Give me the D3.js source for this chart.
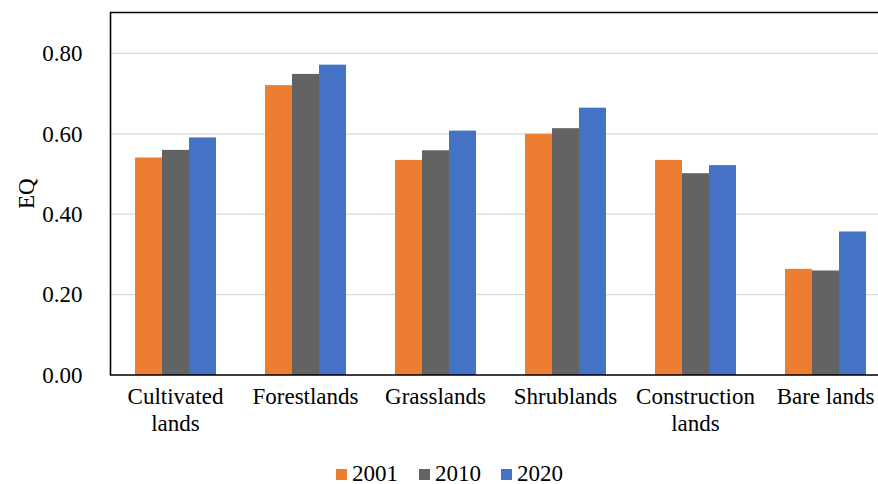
<!DOCTYPE html>
<html>
<head>
<meta charset="utf-8">
<script src="https://cdn.jsdelivr.net/npm/d3@7"></script>
<style>
  html, body { margin: 0; padding: 0; background: #fff; }
  svg text { font-family: "Liberation Serif", "Times New Roman", "DejaVu Serif", serif; }
</style>
</head>
<body>
<svg id="chart" width="878" height="484"></svg>
<script>
// Land-use categories (two-line labels are split on "\n")
const categories = ["Cultivated\nlands", "Forestlands", "Grasslands", "Shrublands", "Construction\nlands", "Bare lands"];
const years = ["2001", "2010", "2020"];
// Mean EQ per category for each year
const eq2001 = [0.541, 0.721, 0.535, 0.600, 0.535, 0.264];
const eq2010 = [0.560, 0.749, 0.559, 0.614, 0.502, 0.260];
const eq2020 = [0.591, 0.772, 0.608, 0.665, 0.522, 0.357];
const yTicks = [0, 0.2, 0.4, 0.6, 0.8];
const colors = ["#ED7D31", "#636363", "#4472C4"];

const seriesValues = [eq2001, eq2010, eq2020];
const rows = categories.map((c, i) => ({ cat: c, vals: years.map((y, j) => ({ year: y, v: seriesValues[j][i] })) }));

const svg = d3.select("#chart");
const plot = { left: 110.5, right: 890.5, top: 12.5, bottom: 375 };

const x0 = d3.scaleBand().domain(categories).range([plot.left, plot.right])
  .paddingInner(0.377).paddingOuter(0.1885);
const x1 = d3.scaleBand().domain(years).range([0, x0.bandwidth()]);
const y = d3.scaleLinear().domain([0, 0.9]).range([plot.bottom, plot.bottom - 0.9 * 402]);

// Horizontal gridlines
svg.append("g").selectAll("line").data(yTicks.filter(t => t > 0)).join("line")
  .attr("x1", plot.left).attr("x2", plot.right)
  .attr("y1", d => y(d)).attr("y2", d => y(d))
  .attr("stroke", "#d9d9d9").attr("stroke-width", 1.2);

// Bars
const groups = svg.append("g").selectAll("g").data(rows).join("g")
  .attr("transform", d => `translate(${x0(d.cat)},0)`);
groups.selectAll("rect").data(d => d.vals).join("rect")
  .attr("x", d => x1(d.year))
  .attr("width", x1.bandwidth())
  .attr("y", d => y(d.v))
  .attr("height", d => y(0) - y(d.v))
  .attr("fill", (d, i) => colors[i]);

// Frame: left, top, bottom
const frame = svg.append("g").attr("stroke", "#000").attr("stroke-width", 1.6).attr("fill", "none");
frame.append("path").attr("d", `M${plot.right},${plot.top}H${plot.left}V${plot.bottom}H${plot.right}`);

// Y tick labels
const yAxis = d3.axisLeft(y).tickValues(yTicks).tickFormat(d3.format(".2f")).tickSize(0).tickPadding(28);
const ya = svg.append("g").attr("transform", `translate(${plot.left},0)`).call(yAxis);
ya.select(".domain").remove();
ya.attr("font-family", null).attr("font-size", null);
ya.selectAll("text").attr("font-size", 23).attr("fill", "#000");

// Category labels
const xl = svg.append("g").attr("font-size", 23).attr("text-anchor", "middle").attr("fill", "#000");
xl.selectAll("text").data(categories).join("text")
  .attr("x", d => x0(d) + x0.bandwidth() / 2)
  .attr("y", 404)
  .each(function (d) {
    const lines = d.split("\n");
    d3.select(this).selectAll("tspan").data(lines).join("tspan")
      .attr("x", x0(d) + x0.bandwidth() / 2)
      .attr("dy", (l, i) => i === 0 ? 0 : 26.5)
      .text(l => l);
  });

// Y axis title
svg.append("text")
  .attr("transform", `translate(34,${(plot.top + plot.bottom) / 2}) rotate(-90)`)
  .attr("text-anchor", "middle").attr("font-size", 23).attr("fill", "#000")
  .text("EQ");

// Legend
const legendX = [336, 419, 501];
const lg = svg.append("g").selectAll("g").data(years).join("g")
  .attr("transform", (d, i) => `translate(${legendX[i]},469)`);
lg.append("rect").attr("width", 11).attr("height", 11).attr("fill", (d, i) => colors[i]);
lg.append("text").attr("x", 16).attr("y", 12).attr("font-size", 23).attr("fill", "#000").text(d => d);
</script>
</body>
</html>
